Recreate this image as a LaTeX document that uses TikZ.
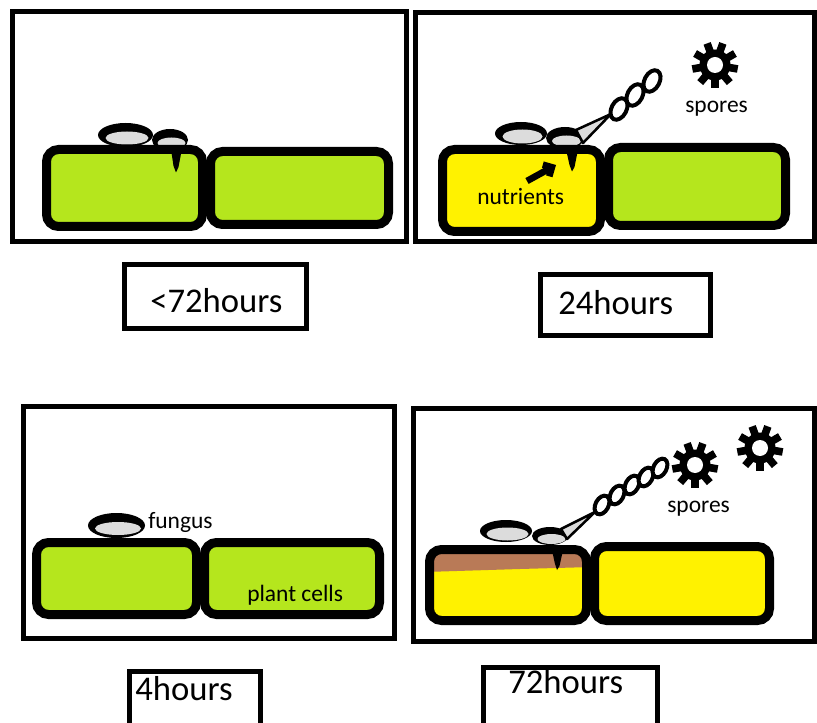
\documentclass[tikz,border=0pt]{standalone}
\usepackage{fontspec}
\setmainfont{Carlito}
\usetikzlibrary{arrows.meta}
\definecolor{leaf}{HTML}{B5E61D}
\definecolor{sap}{HTML}{FFF200}
\definecolor{rot}{HTML}{B97A57}
\definecolor{hypha}{HTML}{DCDCDC}
\begin{document}
\begin{tikzpicture}[x=0.75pt,y=-0.75pt,
  frame/.style={draw=black,line width=3.75pt},
  cellwall/.style={draw=black,line width=6.75pt,rounded corners=9pt},
  tag/.style={font=\fontsize{26}{30}\selectfont,inner sep=0pt,anchor=base west},
  note/.style={font=\fontsize{17.6}{20}\selectfont,inner sep=0pt,anchor=base west},
  stalk/.style={draw=black,fill=hypha,line width=1.9pt,line join=round},
  bead/.style={draw=black,fill=white,line width=3pt},
  sporegear/.pic={
    \fill[black] (0,0) circle (15.5);
    \foreach \a in {0,40,...,320}
      \fill[black,rotate=\a] (-3.8,0) rectangle (3.8,23);
    \fill[white] (0,0) circle (8);
  }]
\useasboundingbox (0,0) rectangle (817,723);
\clip (0,0) rectangle (817,723);
\fill[white] (0,0) rectangle (817,723);

% fungal body: black rim with a grey interior
\newcommand\funbody[6]{%
  \fill[black] (#1,#2) ellipse [x radius=#3,y radius=#4];
  \fill[hypha] (#1+1.5,#2+3) ellipse [x radius=#5,y radius=#6];}

% ---------- panel: <72hours ----------
\draw[frame] (12.5,11.5) rectangle (406.5,241.5);
\funbody{125.5}{135}{27.5}{12}{21.5}{6.5}
\funbody{170}{140}{18}{11}{14}{5.5}
\draw[cellwall,fill=leaf] (46.5,149.5) rectangle (202.5,226.5);
\draw[cellwall,fill=leaf] (210.5,151.5) rectangle (388.5,224.5);
\fill[black] (170.5,146) -- (182.5,146) -- (178.5,167) -- (176,172.5) -- (173.5,166) -- cycle;

% ---------- panel: 24hours ----------
\draw[frame] (415.5,12.5) rectangle (814,241.5);
\funbody{521}{133.5}{26}{11.5}{20}{7}
\funbody{565}{138}{19}{11}{14.5}{5.5}
\draw[stalk] (576,130) -- (611,114) -- (583,143) -- cycle;
\draw[cellwall,fill=sap] (442.5,149.5) rectangle (600.5,231.5);
\draw[cellwall,fill=leaf] (608.5,147.5) rectangle (785.5,225.5);
\fill[black] (565.5,147) -- (578.5,147) -- (574.5,167) -- (572,171.5) -- (569.5,165) -- cycle;
\foreach \cx/\cy in {619/109,635/95,652/81}
  \draw[bead,rotate around={-28:(\cx,\cy)}] (\cx,\cy) ellipse [x radius=7.5,y radius=11.5];
\pic (sporeA) at (715,65) {sporegear};
\coordinate (flowtail) at (527,181);
\coordinate (flowhead) at (556,165);
\draw[line width=5pt,-{Straight Barb[length=5pt,width=10pt]}] (flowtail) -- (flowhead);
\node[note] (nutr) at (477,205) {nutrients};
\node[note] (spA) at (685,113) {spores};

% ---------- panel: 4hours ----------
\draw[frame] (23.5,406) rectangle (394.5,638.5);
\funbody{116.5}{525.5}{28.5}{12.5}{23}{6.5}
\draw[cellwall,fill=leaf] (36.5,542.5) rectangle (196.5,614.5);
\draw[cellwall,fill=leaf] (204.5,542.5) rectangle (379.5,614.5);
\node[note] (fung) at (148,528) {fungus};
\node[note] (plc) at (247,601) {plant cells};

% ---------- panel: 72hours ----------
\draw[frame] (413.5,408) rectangle (814.5,641.5);
\funbody{506}{531}{26}{11}{21}{6.5}
\funbody{550}{536}{18}{9}{14}{5}
\draw[stalk] (561,529) -- (595,512) -- (567,539) -- cycle;
\fill[sap,rounded corners=9pt] (429.5,549.5) rectangle (586.5,620.5);
\begin{scope}
  \clip[rounded corners=9pt] (429.5,549.5) rectangle (586.5,620.5);
  \fill[rot] (425,545) -- (592,545) -- (592,567) -- (520,569) -- (425,572) -- cycle;
\end{scope}
\draw[cellwall] (429.5,549.5) rectangle (586.5,620.5);
\draw[cellwall,fill=sap] (594.5,546.5) rectangle (769.5,620.5);
\fill[black] (551.5,548) -- (563.5,548) -- (559.5,566) -- (557,570) -- (555,564) -- cycle;
\foreach \cx/\cy in {602/505,617/495,632/485,646/477,660/468}
  \draw[bead,rotate around={-28:(\cx,\cy)}] (\cx,\cy) ellipse [x radius=6.5,y radius=10];
\pic (sporeB) at (695,465) {sporegear};
\pic (sporeC) at (760,448) {sporegear};
\node[note] (spB) at (667,512) {spores};

% ---------- time labels ----------
\draw[frame] (124.5,264.5) rectangle (306.5,328.5);
\node[tag] (lab72lt) at (150,313) {<72hours};
\draw[frame] (540.5,274.5) rectangle (710.5,335.5);
\node[tag] (lab24) at (558,315) {24hours};
\draw[frame] (129.5,671.5) rectangle (260.5,740);
\node[tag] (lab4) at (135,700) {4hours};
\draw[frame] (483.5,667.5) rectangle (657.5,740);
\node[tag] (lab72) at (508,693) {72hours};
\end{tikzpicture}
\end{document}
